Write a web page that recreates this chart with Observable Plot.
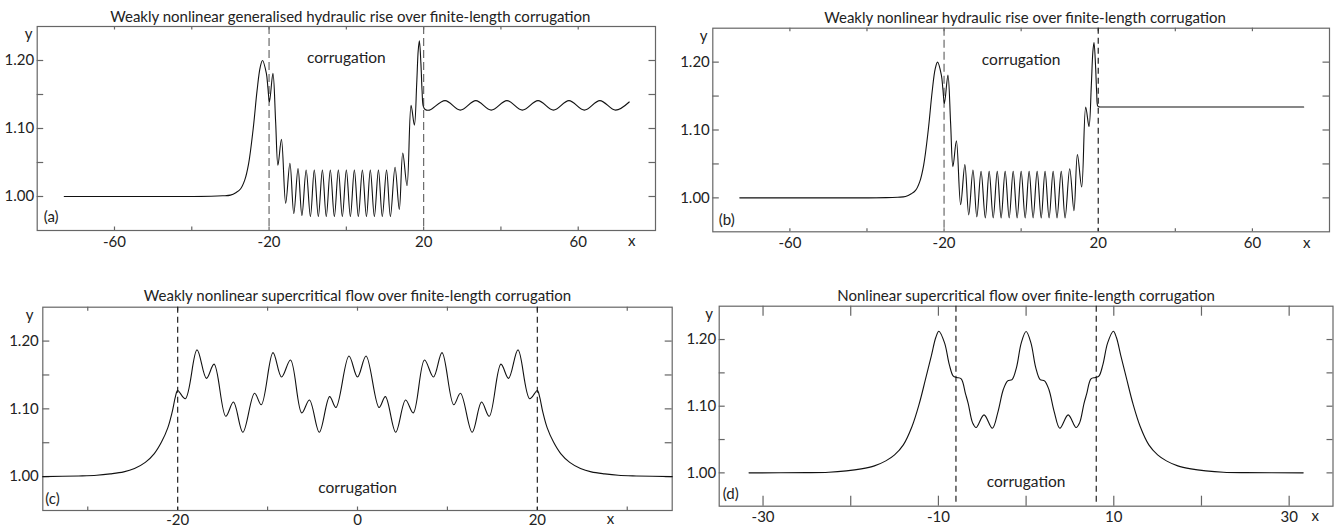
<!DOCTYPE html>
<html><head><meta charset="utf-8">
<script src="https://cdn.jsdelivr.net/npm/d3@7"></script>
<script src="https://cdn.jsdelivr.net/npm/@observablehq/plot@0.6"></script>
<style>
body{margin:0;background:#fff;width:1335px;height:527px;position:relative;overflow:hidden;font-family:Lato,sans-serif}
.panel{position:absolute}
</style></head><body>
<div id="pa" class="panel" style="left:0;top:0"></div>
<div id="pb" class="panel" style="left:668px;top:0"></div>
<div id="pc" class="panel" style="left:0;top:270px"></div>
<div id="pd" class="panel" style="left:675px;top:270px"></div>
<script>
// ---- data ----
// shared upstream / corrugation part of panels (a) and (b)
const upX = [-73, -45, -35, -32, -30, -28.5, -27.4, -26.3, -25.3, -24.1, -23.1, -22.3, -21.7, -20.7, -20.3, -19.9, -19.0, -18.3, -17.7, -16.8, -15.7, -14.6, -13.6, -12.5, -11.5, -10.4, -9.3, -8.3, -7.25, -6.2, -5.2, -4.15, -3.1, -2.07, -1.04, 0, 1.04, 2.07, 3.1, 4.15, 5.2, 6.2, 7.25, 8.3, 9.3, 10.4, 11.4, 12.6, 13.7, 14.6, 15.7, 16.75, 17.6, 18.2, 18.6, 18.9, 19.3, 19.6];
const upY = [1.000, 1.000, 1.0003, 1.001, 1.002, 1.006, 1.011, 1.024, 1.048, 1.100, 1.156, 1.190, 1.200, 1.181, 1.160, 1.139, 1.181, 1.110, 1.046, 1.084, 0.990, 1.049, 0.975, 1.041, 0.972, 1.039, 0.9705, 1.039, 0.9705, 1.039, 0.9705, 1.039, 0.9705, 1.039, 0.9705, 1.039, 0.9705, 1.039, 0.9705, 1.039, 0.9705, 1.039, 0.9705, 1.039, 0.9705, 1.039, 0.9705, 1.043, 0.981, 1.064, 1.016, 1.134, 1.105, 1.165, 1.215, 1.229, 1.195, 1.155];
// downstream of panel (a): lee wave train
const tailAX = [19.9, 20.4, 21.5, 25.55, 29.5, 33.5, 37.5, 41.55, 45.55, 49.6, 53.6, 57.6, 61.6, 65.6, 69.65, 73.2];
const tailAY = [1.133, 1.128, 1.127, 1.141, 1.127, 1.141, 1.127, 1.141, 1.127, 1.141, 1.127, 1.141, 1.127, 1.141, 1.127, 1.139];
// downstream of panel (b): flat
const tailBX = [19.9, 20.4, 21.5, 40, 72, 73.3];
const tailBY = [1.135, 1.134, 1.134, 1.134, 1.134, 1.134];
// panel (c)
const cX = [-35, -31, -29, -27.5, -26, -24.8, -23.6, -22.6, -21.8, -21.1, -20.6, -20.25, -20.0, -19.15, -17.85, -16.8, -15.95, -14.65, -13.8, -12.75, -11.45, -10.7, -9.4, -8.45, -7.45, -6.2, -5.35, -4.25, -3.1, -2.4, -0.95, 0, 0.95, 2.4, 3.1, 4.25, 5.35, 6.2, 7.45, 8.45, 9.4, 10.7, 11.45, 12.75, 13.8, 14.65, 15.95, 16.8, 17.85, 19.15, 20.0, 20.25, 20.6, 21.1, 21.8, 22.6, 23.6, 24.8, 26, 27.5, 29, 31, 35];
const cY = [1.000, 1.001, 1.002, 1.004, 1.007, 1.012, 1.021, 1.034, 1.051, 1.072, 1.096, 1.118, 1.127, 1.115, 1.187, 1.145, 1.166, 1.089, 1.110, 1.0655, 1.123, 1.106, 1.183, 1.147, 1.172, 1.094, 1.113, 1.0655, 1.118, 1.102, 1.178, 1.147, 1.178, 1.102, 1.118, 1.0655, 1.113, 1.094, 1.172, 1.147, 1.183, 1.106, 1.123, 1.0655, 1.110, 1.089, 1.166, 1.145, 1.187, 1.115, 1.127, 1.118, 1.096, 1.072, 1.051, 1.034, 1.021, 1.012, 1.007, 1.004, 1.002, 1.001, 1.000];
// panel (d)
const dX = [-31.6, -25, -22.5, -20.5, -18.8, -17.3, -16, -15, -14, -13, -12.2, -11.5, -10.8, -10.3, -9.95, -9.3, -8.75, -8.3, -7.9, -7.4, -6.9, -6.6, -6.1, -5.7, -4.8, -3.85, -3.2, -2.6, -2.1, -1.6, -1.1, -0.55, 0, 0.55, 1.1, 1.6, 2.1, 2.6, 3.2, 3.85, 4.8, 5.7, 6.1, 6.6, 6.9, 7.4, 7.9, 8.3, 8.75, 9.3, 9.95, 10.3, 10.8, 11.5, 12.2, 13, 14, 15, 16, 17.3, 18.8, 20.5, 22.5, 25, 31.6];
const dY = [1.000, 1.0003, 1.001, 1.003, 1.006, 1.0105, 1.018, 1.027, 1.042, 1.070, 1.103, 1.139, 1.176, 1.203, 1.2125, 1.195, 1.162, 1.145, 1.143, 1.141, 1.118, 1.104, 1.075, 1.068, 1.087, 1.067, 1.092, 1.125, 1.138, 1.140, 1.158, 1.195, 1.212, 1.195, 1.158, 1.140, 1.138, 1.125, 1.092, 1.067, 1.087, 1.068, 1.075, 1.104, 1.118, 1.141, 1.143, 1.145, 1.162, 1.195, 1.2125, 1.203, 1.176, 1.139, 1.103, 1.070, 1.042, 1.027, 1.018, 1.0105, 1.006, 1.003, 1.001, 1.0003, 1.000];
// corrugation edges
const edgesAB = [-20, 20];
const edgesC = [-20, 20];
const edgesD = [-8, 8];
// ticks and tick labels
const xTicksAB = [-60, -40, -20, 0, 20, 40, 60];
const xLabelsAB = [-60, -20, 20, 60];
const xTicksCD = [-30, -20, -10, 0, 10, 20, 30];
const xLabelsC = [-20, 0, 20];
const xLabelsD = [-30, -10, 10, 30];
const yTicks = [1.00, 1.05, 1.10, 1.15, 1.20];
const yLabels = [1.00, 1.10, 1.20];
const titles = [
  "Weakly nonlinear generalised hydraulic rise over finite-length corrugation",
  "Weakly nonlinear hydraulic rise over finite-length corrugation",
  "Weakly nonlinear supercritical flow over finite-length corrugation",
  "Nonlinear supercritical flow over finite-length corrugation"
];
const tags = ["(a)", "(b)", "(c)", "(d)"];
const corrLabel = "corrugation";

// ---- helpers ----
const pts = (xs, ys) => xs.map((x, i) => ({x, y: ys[i]}));
const FR = "#666";

function panel(o) {
  const iw = o.width - o.ml - o.mr, ih = o.height - o.mt - o.mb;
  const marks = [
    Plot.frame({stroke: FR, strokeWidth: 1.2}),
    Plot.tickX(o.xTicks, {x: d => d, insetTop: ih - o.tb, stroke: FR, strokeWidth: 1.2}),
    Plot.tickX(o.xTicks, {x: d => d, insetBottom: ih - o.tt, stroke: FR, strokeWidth: 1.2}),
    Plot.tickY(yTicks, {y: d => d, insetRight: iw - o.ts, stroke: FR, strokeWidth: 1.2}),
    Plot.tickY(yTicks, {y: d => d, insetLeft: iw - o.ts, stroke: FR, strokeWidth: 1.2}),
    Plot.axisX(o.xLabels, {tickSize: 0, tickPadding: o.xp, tickFormat: d => String(d), label: null, fill: "#222"}),
    Plot.axisY(yLabels, {tickSize: 0, tickPadding: o.yp, tickFormat: d => d.toFixed(2), label: null, fill: "#222"}),
    ...o.dashes.map(dd => Plot.ruleX(dd.values, {x: d => d, stroke: dd.stroke, strokeDasharray: dd.dash, strokeWidth: 1.2})),
    ...o.lines.map(l => Plot.line(l, {x: "x", y: "y", curve: "catmull-rom", stroke: "#111", strokeWidth: 1.1})),
    Plot.text([o.title], {text: d => d, frameAnchor: "top", dy: o.titleDy, dx: o.titleDx || 0, lineAnchor: "middle", fill: "#222"}),
    Plot.text([o.tag], {text: d => d, frameAnchor: "bottom-left", textAnchor: "start", dx: o.tagDx, dy: o.tagDy, lineAnchor: "middle", fill: "#222"}),
    Plot.text([corrLabel], {text: d => d, frameAnchor: o.corrAnchor, dy: o.corrDy, dx: o.corrDx || 0, lineAnchor: "middle", fill: "#222", fontSize: 15.5}),
    Plot.text(["y"], {text: d => d, frameAnchor: "top-left", dx: o.yDx, dy: o.yDy, lineAnchor: "middle", fill: "#222"}),
    Plot.text(["x"], {text: d => d, frameAnchor: "bottom-right", dx: o.xDx, dy: o.xDy, lineAnchor: "middle", fill: "#222"})
  ];
  const svg = Plot.plot({
    width: o.width, height: o.height,
    marginLeft: o.ml, marginRight: o.mr, marginTop: o.mt, marginBottom: o.mb,
    x: {domain: o.xDomain},
    y: {domain: [0.95, 1.25]},
    style: {fontFamily: "Lato, sans-serif", fontSize: "15px", background: "transparent", color: "#222", overflow: "visible"},
    marks
  });
  document.getElementById(o.id).appendChild(svg);
}

panel({id: "pa", width: 667, height: 270, ml: 36.7, mr: 12, mt: 26, mb: 40,
  xDomain: [-80, 80], xTicks: xTicksAB, xLabels: xLabelsAB, tb: 3.5, tt: 3.5, ts: 6.5, xp: 6, yp: 3,
  dashes: [{values: edgesAB, stroke: "#6a6a6a", dash: "8,4"}],
  lines: [pts(upX.concat(tailAX), upY.concat(tailAY))],
  title: titles[0], titleDy: -9.5, titleDx: 4, tag: tags[0], tagDx: 6.5, tagDy: -13.5,
  corrAnchor: "top", corrDy: 31.5, yDx: -12.5, yDy: 8, xDx: -20, xDy: 11});

panel({id: "pb", width: 667, height: 270, ml: 44.3, mr: 6, mt: 27.7, mb: 38.7,
  xDomain: [-80, 80], xTicks: xTicksAB, xLabels: xLabelsAB, tb: 3, tt: 3.5, ts: 6.5, xp: 6, yp: 3,
  dashes: [{values: edgesAB.slice(0, 1), stroke: "#6a6a6a", dash: "8,4"}, {values: edgesAB.slice(1), stroke: "#222", dash: "6,4"}],
  lines: [pts(upX.concat(tailBX), upY.concat(tailBY))],
  title: titles[1], titleDy: -10.5, titleDx: 4, tag: tags[1], tagDx: 6, tagDy: -11.5,
  corrAnchor: "top", corrDy: 32, yDx: -13, yDy: 8, xDx: -19, xDy: 11});

panel({id: "pc", width: 675, height: 257, ml: 42.3, mr: 3.3, mt: 36.7, mb: 17,
  xDomain: [-35, 35], xTicks: xTicksCD, xLabels: xLabelsC, tb: 3.5, tt: 4, ts: 7, xp: 4, yp: 4,
  dashes: [{values: edgesC, stroke: "#222", dash: "6,4"}],
  lines: [pts(cX, cY)],
  title: titles[2], titleDy: -11.5, tag: tags[2], tagDx: 2.5, tagDy: -11,
  corrAnchor: "bottom", corrDy: -22.7, yDx: -17, yDy: 8, xDx: -58, xDy: 9});

panel({id: "pd", width: 660, height: 257, ml: 43.7, mr: 2.5, mt: 35.7, mb: 21.3,
  xDomain: [-35, 35], xTicks: xTicksCD, xLabels: xLabelsD, tb: 10, tt: 10, ts: 6, xp: 5, yp: 3,
  dashes: [{values: edgesD, stroke: "#222", dash: "6,4"}],
  lines: [pts(dX, dY)],
  title: titles[3], titleDy: -10.5, tag: tags[3], tagDx: 3.5, tagDy: -12.5,
  corrAnchor: "bottom", corrDy: -24.3, yDx: -14, yDy: 7.6, xDx: -14, xDy: 10});
</script>
</body></html>
